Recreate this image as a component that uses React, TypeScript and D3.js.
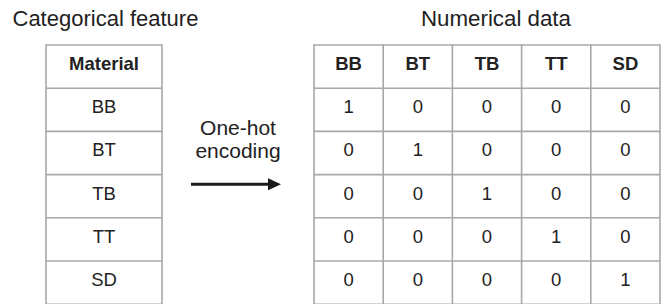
import React, { useEffect, useRef } from 'react';
import * as d3 from 'd3';

const materials = ["BB", "BT", "TB", "TT", "SD"];
const columns = ["BB", "BT", "TB", "TT", "SD"];
const encoded = [
  [1, 0, 0, 0, 0],
  [0, 1, 0, 0, 0],
  [0, 0, 1, 0, 0],
  [0, 0, 0, 1, 0],
  [0, 0, 0, 0, 1],
];
const leftTitle = "Categorical feature";
const rightTitle = "Numerical data";
const headerLabel = "Material";
const arrowLabel = ["One-hot", "encoding"];

const width = 666;
const height = 304;
const top = 45;
const rowH = 43.2;
const gridColor = "#a8a8a8";
const textColor = "#222";
const font = "'Liberation Sans', Arial, Helvetica, sans-serif";

const App = () => {
  const svgRef = useRef(null);

  useEffect(() => {
    const svg = d3.select(svgRef.current);
    svg.selectAll("*").remove();

    const rowKeys = ["header", ...materials];
    const y = d3.scaleBand().domain(rowKeys).range([top, top + rowH * rowKeys.length]);

    // Left table: one column
    const xl = d3.scaleBand().domain(["material"]).range([46, 162]);
    // Right table: five columns
    const xr = d3.scaleBand().domain(columns).range([314, 660]);

    const drawTable = (g, x, cols, cellText) => {
      const x0 = x.range()[0];
      const x1 = x.range()[1];
      const [y0, y1] = y.range();

      // horizontal lines
      g.selectAll(".hline")
        .data([...rowKeys.map((k) => y(k)), y1])
        .join("line")
        .attr("x1", x0)
        .attr("x2", x1)
        .attr("y1", (d) => d)
        .attr("y2", (d) => d)
        .attr("stroke", gridColor)
        .attr("stroke-width", 1.6);

      // vertical lines
      g.selectAll(".vline")
        .data([...cols.map((c) => x(c)), x1])
        .join("line")
        .attr("x1", (d) => d)
        .attr("x2", (d) => d)
        .attr("y1", y0 - 0.8)
        .attr("y2", y1)
        .attr("stroke", gridColor)
        .attr("stroke-width", 1.6);

      // text
      rowKeys.forEach((rk, ri) => {
        cols.forEach((c, ci) => {
          g.append("text")
            .attr("x", x(c) + x.bandwidth() / 2)
            .attr("y", y(rk) + 25)
            .attr("text-anchor", "middle")
            .attr("font-family", font)
            .attr("font-size", 18.5)
            .attr("font-weight", ri === 0 ? "bold" : "normal")
            .attr("fill", textColor)
            .text(cellText(ri, ci));
        });
      });
    };

    drawTable(svg.append("g"), xl, ["material"], (ri) => (ri === 0 ? headerLabel : materials[ri - 1]));
    drawTable(svg.append("g"), xr, columns, (ri, ci) => (ri === 0 ? columns[ci] : String(encoded[ri - 1][ci])));

    // Titles
    svg.append("text")
      .attr("x", 12.5)
      .attr("y", 26)
      .attr("font-family", font)
      .attr("font-size", 22)
      .attr("fill", textColor)
      .text(leftTitle);

    svg.append("text")
      .attr("x", 496)
      .attr("y", 26)
      .attr("text-anchor", "middle")
      .attr("font-family", font)
      .attr("font-size", 22.3)
      .attr("fill", textColor)
      .text(rightTitle);

    // Arrow label
    const cx = (xl.range()[1] + xr.range()[0]) / 2;
    svg.selectAll(".arrow-label")
      .data(arrowLabel)
      .join("text")
      .attr("x", cx)
      .attr("y", (d, i) => 135 + i * 23)
      .attr("text-anchor", "middle")
      .attr("font-family", font)
      .attr("font-size", 21)
      .attr("fill", textColor)
      .text((d) => d);

    // Arrow
    const ay = 184.3;
    svg.append("line")
      .attr("x1", 191)
      .attr("x2", 270)
      .attr("y1", ay)
      .attr("y2", ay)
      .attr("stroke", "#1a1a1a")
      .attr("stroke-width", 3);
    svg.append("path")
      .attr("d", d3.line()([[268, ay - 6], [281, ay], [268, ay + 6]]) + "Z")
      .attr("fill", "#1a1a1a");
  }, []);

  return (
    <svg
      ref={svgRef}
      width={width}
      height={height}
      style={{ position: "fixed", left: 0, top: 0, background: "#fff" }}
    ></svg>
  );
};

export default App;
